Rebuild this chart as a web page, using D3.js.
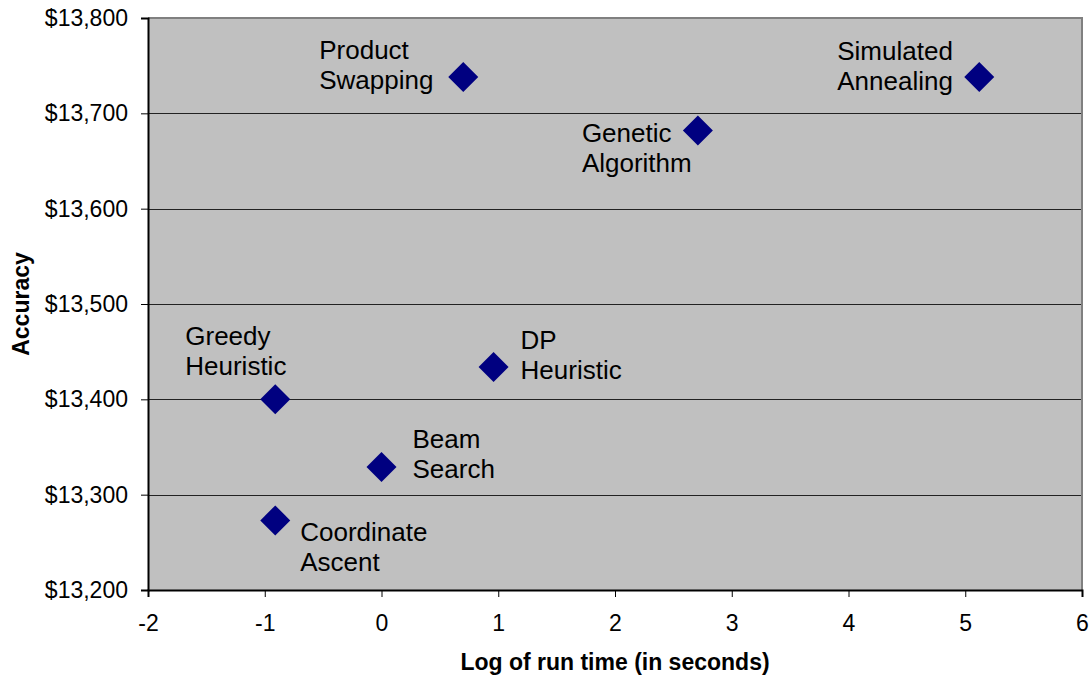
<!DOCTYPE html>
<html><head><meta charset="utf-8">
<script src="https://cdn.jsdelivr.net/npm/d3@7"></script>
<style>body{margin:0;background:#fff}svg{display:block}</style>
</head><body>
<svg id="chart" width="1091" height="679"></svg>
<script>
// ---- data ----
const methods = ["Product Swapping","Simulated Annealing","Genetic Algorithm","DP Heuristic","Greedy Heuristic","Beam Search","Coordinate Ascent"];
const labelLines = [["Product","Swapping"],["Simulated","Annealing"],["Genetic","Algorithm"],["DP","Heuristic"],["Greedy","Heuristic"],["Beam","Search"],["Coordinate","Ascent"]];
const logRunTime = [0.70, 5.12, 2.71, 0.96, -0.91, 0.00, -0.91];
const accuracy = [13738, 13738, 13682, 13434, 13400, 13329, 13273];
const xTicks = [-2,-1,0,1,2,3,4,5,6];
const yTicks = [13200,13300,13400,13500,13600,13700,13800];
const xTitle = "Log of run time (in seconds)";
const yTitle = "Accuracy";

// ---- layout (label nudges in px, relative to marker) ----
const labelNudge = [[-144,-18],[-142,-17],[-116,12],[27,-18],[-90,-54],[31,-19],[25,21]];

const W = 1091, H = 679;
const plot = {left:148, right:1082, top:18, bottom:590};
const svg = d3.select("#chart");
const font = "'Liberation Sans', Arial, sans-serif";

const x = d3.scaleLinear().domain([-2,6]).range([plot.left, plot.right]);
const y = d3.scaleLinear().domain([13200,13800]).range([plot.bottom, plot.top]);

// plot background
svg.append("rect")
  .attr("x", plot.left).attr("y", plot.top)
  .attr("width", plot.right - plot.left).attr("height", plot.bottom - plot.top)
  .attr("fill", "#C0C0C0");

// gridlines
svg.append("g").selectAll("line")
  .data(yTicks.filter(v => v > 13200 && v < 13800))
  .join("line")
  .attr("x1", plot.left).attr("x2", plot.right)
  .attr("y1", d => Math.round(y(d)) + 0.5).attr("y2", d => Math.round(y(d)) + 0.5)
  .attr("stroke", "#222").attr("stroke-width", 1);

// top & right border
svg.append("path")
  .attr("d", `M${plot.left},${plot.top}H${plot.right}V${plot.bottom}`)
  .attr("fill", "none").attr("stroke", "#808080").attr("stroke-width", 2);

// axes
const xAxis = svg.append("g")
  .attr("transform", `translate(0,${plot.bottom})`)
  .call(d3.axisBottom(x).tickValues(xTicks).tickSize(7).tickPadding(18).tickFormat(d => String(d)));
const yAxis = svg.append("g")
  .attr("transform", `translate(${plot.left},0)`)
  .call(d3.axisLeft(y).tickValues(yTicks).tickSize(7).tickPadding(13).tickFormat(d => "$" + d3.format(",")(d)));

[xAxis, yAxis].forEach(a => {
  a.select(".domain").attr("stroke", "#000").attr("stroke-width", 2);
  a.selectAll(".tick line").attr("stroke", "#000").attr("stroke-width", 1);
  a.selectAll(".tick text").attr("fill", "#000").style("font-family", font).style("font-size", "23px");
});
xAxis.selectAll(".tick text").attr("dy", "0.71em");

// axis titles
svg.append("text")
  .attr("x", (plot.left + plot.right) / 2).attr("y", 670)
  .attr("text-anchor", "middle")
  .style("font-family", font).style("font-size", "23px").style("font-weight", "bold")
  .text(xTitle);
svg.append("text")
  .attr("transform", `translate(29,${(plot.top + plot.bottom) / 2}) rotate(-90)`)
  .attr("text-anchor", "middle")
  .style("font-family", font).style("font-size", "23px").style("font-weight", "bold")
  .text(yTitle);

// points
const idx = d3.range(methods.length);
const sym = d3.symbol().type(d3.symbolSquare).size(450);
svg.append("g").selectAll("path")
  .data(idx).join("path")
  .attr("d", sym)
  .attr("transform", i => `translate(${x(logRunTime[i])},${y(accuracy[i])}) rotate(45)`)
  .attr("fill", "#000080");

// labels
const lg = svg.append("g").style("font-family", font).style("font-size", "26px").attr("fill", "#000");
idx.forEach(i => {
  const px = x(logRunTime[i]) + labelNudge[i][0];
  const py = y(accuracy[i]) + labelNudge[i][1];
  const t = lg.append("text").attr("x", px).attr("y", py);
  labelLines[i].forEach((line, k) => {
    t.append("tspan").attr("x", px).attr("y", py + k * 30).text(line);
  });
});
</script>
</body></html>
